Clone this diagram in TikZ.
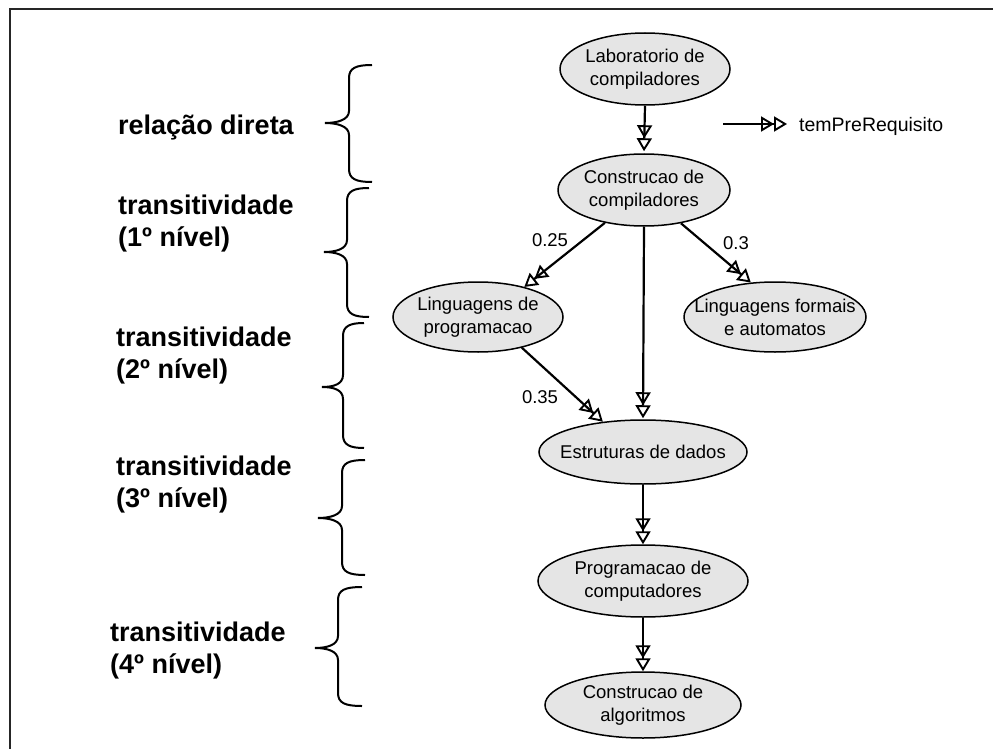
\documentclass[tikz,border=0pt]{standalone}
\usepackage{fontspec}
\setmainfont{Liberation Sans}
\usetikzlibrary{arrows.meta,shapes.geometric}

\definecolor{conceptgray}{RGB}{229,229,229}

\tikzset{
  concept/.style={ellipse, draw=black, line width=1.5pt, fill=conceptgray,
    inner xsep=-30pt, inner ysep=0pt, align=center,
    font=\fontsize{18.5}{23}\selectfont},
  req/.style={line width=2.2pt,
    -{Triangle[open,length=13pt,width=15pt,line width=1.9pt,sep=0pt]
      Triangle[open,length=13pt,width=15pt,line width=1.9pt]}},
  weight/.style={inner sep=0pt, font=\fontsize{18.5}{20}\selectfont},
  level/.style={inner sep=0pt, align=left, anchor=west,
    font=\bfseries\fontsize{27}{32}\selectfont},
  bracestroke/.style={line width=2pt},
  frameline/.style={line width=2.5pt, draw=black!85}
}

% curly brace opening to the right: ends at x=#1 (from y=#2 to y=#3),
% straight part at x=#4, tip at (#5,#6)
\newcommand\sidebrace[6]{%
  \draw[bracestroke] (#1,#2) .. controls (#4+7,#2) and (#4,#2+3) .. (#4,#2+13)
    -- (#4,#6-12) .. controls (#4,#6-3) and (#5+12,#6) .. (#5,#6)
    .. controls (#5+12,#6) and (#4,#6+3) .. (#4,#6+12)
    -- (#4,#3-13) .. controls (#4,#3-3) and (#4+7,#3) .. (#1,#3);
}

\begin{document}
\begin{tikzpicture}[x=1pt,y=-1pt]
\useasboundingbox (0,0) rectangle (993,749);

% frame
\draw[frameline] (10,749) -- (10,9) -- (993,9);

% concepts
\node[concept, minimum width=170pt, minimum height=72pt] (lab) at (645,69) {Laboratorio de\\compiladores};
\node[concept, minimum width=172pt, minimum height=72pt] (cc) at (644,190) {Construcao de\\compiladores};
\node[concept, minimum width=170pt, minimum height=70pt] (lp) at (478,317) {Linguagens de\\programacao};
\node[concept, minimum width=182pt, minimum height=70pt] (lf) at (775,317) {Linguagens formais\\e automatos};
\node[concept, minimum width=208pt, minimum height=64pt] (ed) at (643,452) {Estruturas de dados};
\node[concept, minimum width=210pt, minimum height=72pt] (pc) at (643,581) {Programacao de\\computadores};
\node[concept, minimum width=196pt, minimum height=66pt] (ca) at (643,705) {Construcao de\\algoritmos};

% prerequisite relations
\draw[req] (lab.south) -- ([yshift=2pt]cc.north);
\draw[req] (cc.220) -- (lp.33);
\draw[req] (cc.318) -- (lf.125);
\draw[req] (cc.south) -- ([yshift=1pt]ed.north);
\draw[req] (lp.-35) -- (ed.143);
\draw[req] (ed.south) -- (pc.north);
\draw[req] (pc.south) -- (ca.north);

% weights
\node[weight] (w1) at (550,240) {0.25};
\node[weight] (w2) at (736,243) {0.3};
\node[weight] (w3) at (540,397) {0.35};

% legend
\coordinate (lg0) at (723,124);
\coordinate (lg1) at (787,124);
\draw[req] (lg0) -- (lg1);
\node[inner sep=0pt, anchor=west, font=\fontsize{19.5}{20}\selectfont] (lgtext) at (799,126) {temPreRequisito};

% levels
\node[inner sep=0pt, anchor=base west, font=\bfseries\fontsize{27}{32}\selectfont] (l0) at (118,135) {relação direta};
\node[level] (l1) at (118,224) {transitividade\\(1º nível)};
\node[level] (l2) at (116,356) {transitividade\\(2º nível)};
\node[level] (l3) at (116,485) {transitividade\\(3º nível)};
\node[level] (l4) at (110,651) {transitividade\\(4º nível)};

\sidebrace{372}{65}{182}{349}{325}{123}
\sidebrace{369}{188}{317}{347}{324}{252}
\sidebrace{364}{323}{448}{343}{322}{387}
\sidebrace{365}{460}{575}{342}{318}{518}
\sidebrace{362}{587}{706}{338}{315}{648}

\end{tikzpicture}
\end{document}
